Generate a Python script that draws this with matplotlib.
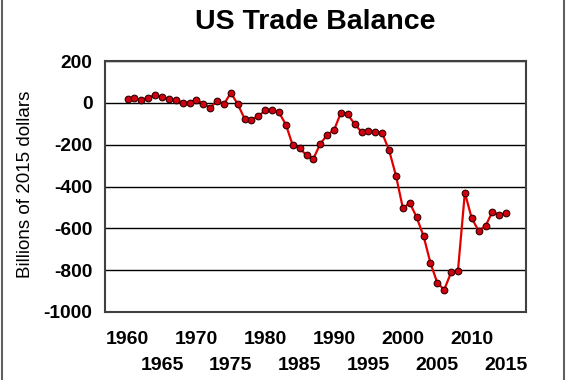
#!/usr/bin/env python3
"""US trade balance 1960-2015, billions of 2015 dollars."""

import matplotlib
matplotlib.use("Agg")
import matplotlib.pyplot as plt
from matplotlib.lines import Line2D

# ---- data ----
years = list(range(1960, 2016))
balance = [17, 23, 15, 26, 38, 28, 17, 15, 2, 2,
           15, -3, -22, 9, -6, 49, -6, -75, -80, -63,
           -35, -34, -45, -104, -203, -217, -250, -266, -195, -153,
           -129, -46, -55, -102, -139, -132, -139, -145, -227, -349,
           -504, -478, -547, -637, -765, -861, -893, -811, -802, -429,
           -552, -611, -589, -520, -536, -525]

yticks = [200, 0, -200, -400, -600, -800, -1000]
decades = [1960, 1970, 1980, 1990, 2000, 2010]
halves = [1965, 1975, 1985, 1995, 2005, 2015]

plt.rcParams['font.family'] = ['Liberation Sans', 'DejaVu Sans']

fig = plt.figure(figsize=(5.7, 3.8), dpi=100)
ax = fig.add_axes([0.184, 0.179, 0.739, 0.660])

ax.plot(years, balance, color='#e00000', lw=1.6, marker='o', ms=4.8,
        mfc='#d00010', mec='#300000', mew=0.8, zorder=3)

ax.set_xlim(1956.7, 2017.9)
ax.set_ylim(-1000, 200)

# horizontal gridlines
ax.set_yticks(yticks)
ax.set_yticklabels([str(v) for v in yticks], fontsize=13.8, fontweight='bold')
ax.grid(True, axis='y', color='black', lw=1.0)
ax.set_axisbelow(True)

# staggered year labels: decades on top row, half-decades below
ax.set_xticks(decades)
ax.set_xticklabels([str(v) for v in decades], fontsize=14, fontweight='bold')
ax.set_xticks(halves, minor=True)
ax.set_xticklabels([str(v) for v in halves], minor=True, fontsize=14,
                   fontweight='bold')
ax.tick_params(axis='x', which='major', length=0, pad=13.5)
ax.tick_params(axis='x', which='minor', length=0, pad=32.5)
ax.tick_params(axis='y', length=0, pad=9)

for s in ax.spines.values():
    s.set_color('#404040')
    s.set_linewidth(1.5)

ax.set_title('US Trade Balance', fontsize=20.5, fontweight='bold', pad=23)
fig.text(0.044, 0.516, 'Billions of 2015 dollars', rotation=90,
         fontsize=13.5, va='center', ha='center')

# thin grey frame around the figure (left and right edges)
for xf in (0.004, 0.99):
    fig.add_artist(Line2D([xf, xf], [0, 1], color='#606060', lw=1.5))

fig.savefig('out.png', dpi=100)
